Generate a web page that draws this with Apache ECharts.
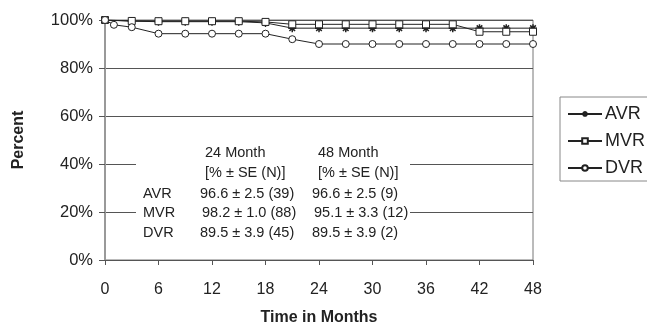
<!DOCTYPE html>
<html>
<head>
<meta charset="utf-8">
<script src="https://cdn.jsdelivr.net/npm/echarts@6/dist/echarts.min.js"></script>
<style>
html, body { margin: 0; padding: 0; background: #fff; }
#one { width: 647px; height: 328px; }
</style>
</head>
<body>
<div id="one"></div>
<script>
// months where a point was plotted
var months = [0, 1, 3, 6, 9, 12, 15, 18, 21, 24, 27, 30, 33, 36, 39, 42, 45, 48];
var avr = [100, null, 99.5, 99.3, 99.3, 99.3, 99.3, 98.8, 96.6, 96.6, 96.6, 96.6, 96.6, 96.6, 96.6, 96.6, 96.6, 96.6];
var mvr = [100, null, 99.6, 99.5, 99.5, 99.5, 99.5, 99.2, 98.2, 98.2, 98.2, 98.2, 98.2, 98.2, 98.2, 95.1, 95.1, 95.1];
var dvr = [100, 98, 97, 94.3, 94.3, 94.3, 94.3, 94.3, 92, 90, 90, 90, 90, 90, 90, 90, 90, 90];

// table inside the plot
var tableHead = ['24 Month', '48 Month'];
var tableRows = ['AVR', 'MVR', 'DVR'];
var col24 = ['96.6 \u00b1 2.5 (39)', '98.2 \u00b1 1.0 (88)', '89.5 \u00b1 3.9 (45)'];
var col48 = ['96.6 \u00b1 2.5 (9)', '95.1 \u00b1 3.3 (12)', '89.5 \u00b1 3.9 (2)'];

function pairs(vals) {
    var out = [];
    for (var i = 0; i < months.length; i++) {
        if (vals[i] != null) out.push([months[i], vals[i]]);
    }
    return out;
}

var starPath = 'path://M0,5L10,5M5,0L5,10M1.5,1.5L8.5,8.5M8.5,1.5L1.5,8.5';
var font = 'Liberation Sans, Arial, sans-serif';
var txt = { fontFamily: font, fontSize: 14.5, fill: '#222' };

var graphics = [
    { type: 'rect', left: 136, top: 142, shape: { width: 274, height: 100 }, style: { fill: '#fff' }, z: 5 },
    { type: 'text', left: 205, top: 145, style: Object.assign({ text: tableHead[0] }, txt), z: 6 },
    { type: 'text', left: 318, top: 145, style: Object.assign({ text: tableHead[1] }, txt), z: 6 },
    { type: 'text', left: 205, top: 165, style: Object.assign({ text: '[% \u00b1 SE (N)]' }, txt), z: 6 },
    { type: 'text', left: 318, top: 165, style: Object.assign({ text: '[% \u00b1 SE (N)]' }, txt), z: 6 }
];
for (var r = 0; r < tableRows.length; r++) {
    var y = 186 + r * 19.5;
    graphics.push({ type: 'text', left: 143, top: y, style: Object.assign({ text: tableRows[r] }, txt), z: 6 });
    graphics.push({ type: 'text', left: 200 + (r == 1 ? 2 : 0), top: y, style: Object.assign({ text: col24[r] }, txt), z: 6 });
    graphics.push({ type: 'text', left: 312 + (r == 1 ? 2 : 0), top: y, style: Object.assign({ text: col48[r] }, txt), z: 6 });
}

var myChart = echarts.init(document.getElementById('one'));
var option = {
    animation: false,
    textStyle: { fontFamily: font },
    grid: {
        left: 105, right: 114, top: 20, bottom: 68,
        outerBoundsMode: 'none',
        show: true, borderColor: '#777', borderWidth: 1
    },
    legend: {
        orient: 'vertical',
        left: 560, top: 97,
        data: ['AVR', 'MVR', 'DVR'],
        itemWidth: 34, itemHeight: 7, itemGap: 9,
        padding: [8, 20, 4, 7],
        borderColor: '#888', borderWidth: 1,
        textStyle: { fontSize: 18, color: '#222', fontFamily: font, padding: [0, 0, 0, -2] }
    },
    xAxis: {
        type: 'value', min: 0, max: 48, interval: 6,
        name: 'Time in Months', nameLocation: 'middle', nameGap: 50,
        nameTextStyle: { fontSize: 16, fontWeight: 'bold', color: '#222' },
        axisLine: { lineStyle: { color: '#555' } },
        axisTick: { show: true, length: 5, lineStyle: { color: '#555' } },
        axisLabel: { fontSize: 16, color: '#222', margin: 22 },
        splitLine: { show: false }
    },
    yAxis: {
        type: 'value', min: 0, max: 100, interval: 20,
        name: 'Percent', nameLocation: 'middle', nameGap: 78, nameRotate: 90,
        nameTextStyle: { fontSize: 16, fontWeight: 'bold', color: '#222' },
        axisLine: { show: true, lineStyle: { color: '#999', width: 2 } },
        axisTick: { show: true, length: 6, lineStyle: { color: '#555' } },
        axisLabel: { fontSize: 16.5, color: '#222', margin: 12, formatter: '{value}%' },
        splitLine: { show: true, lineStyle: { color: '#555' } }
    },
    color: ['#222', '#222', '#222'],
    series: [
        {
            name: 'AVR', type: 'line', data: pairs(avr),
            symbol: starPath, symbolSize: 8,
            lineStyle: { width: 1, color: '#222' },
            itemStyle: { color: '#222', borderColor: '#222', borderWidth: 1.5 }
        },
        {
            name: 'MVR', type: 'line', data: pairs(mvr),
            symbol: 'rect', symbolSize: 7,
            lineStyle: { width: 1, color: '#222' },
            itemStyle: { color: '#fff', borderColor: '#222', borderWidth: 1 }
        },
        {
            name: 'DVR', type: 'line', data: pairs(dvr),
            symbol: 'circle', symbolSize: 7,
            lineStyle: { width: 1, color: '#222' },
            itemStyle: { color: '#fff', borderColor: '#222', borderWidth: 1 }
        }
    ],
    graphic: graphics
};
myChart.setOption(option);
</script>
</body>
</html>
